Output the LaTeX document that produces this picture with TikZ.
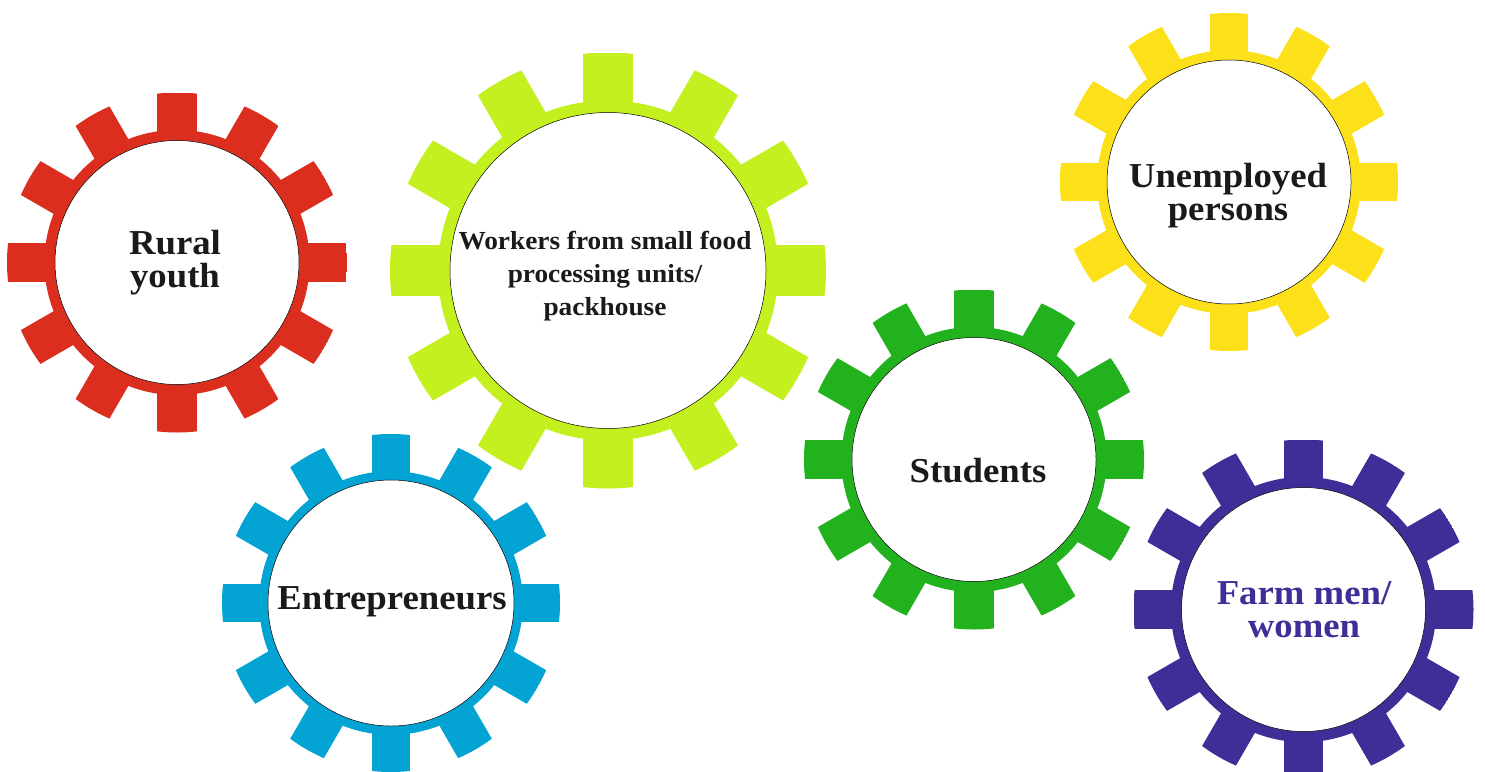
\documentclass[tikz,border=0pt]{standalone}
\usepackage{fontspec}
\setmainfont{Liberation Serif}[FakeStretch=1.05]

\definecolor{rouge}{RGB}{220,46,30}
\definecolor{citron}{RGB}{195,240,30}
\definecolor{jaune}{RGB}{252,224,26}
\definecolor{vert}{RGB}{34,178,30}
\definecolor{bleu}{RGB}{3,163,212}
\definecolor{violet}{RGB}{62,46,152}
\definecolor{encre}{RGB}{26,26,26}

% roue dentee : centre x, centre y, rayon, couleur
\newcommand{\roue}[4]{%
  \begin{scope}[shift={(#1,#2)}]
    \begin{scope}
      \clip (0,0) circle (#3);
      \foreach \a in {0,30,...,330}
        \fill[#4, rotate=\a] (0,-0.115*#3) rectangle (#3,0.115*#3);
    \end{scope}
    \fill[#4] (0,0) circle (0.78*#3);
  \end{scope}}

\tikzset{
  moyeu/.style={circle, draw=black, line width=0.5pt, fill=white, inner sep=0pt},
  texte/.style={align=center, inner sep=0pt, text=encre, font=\bfseries\fontsize{35}{33}\selectfont}
}

\begin{document}
\begin{tikzpicture}[x=1pt, y=-1pt]
\clip (0,0) rectangle (1485,771);

% Roues
\roue{177}{262.5}{170}{rouge}
\roue{608}{270.5}{218}{citron}
\roue{1229}{182}{169}{jaune}
\roue{974}{459.5}{170}{vert}
\roue{391}{603}{169}{bleu}
\roue{1303.5}{609.5}{170}{violet}

% Moyeux
\node[moyeu, minimum size=244] (rural) at (177,262.5) {};
\node[moyeu, minimum size=316] (ouvriers) at (608,270.5) {};
\node[moyeu, minimum size=244] (chomeurs) at (1229,182) {};
\node[moyeu, minimum size=244] (etudiants) at (974,459.5) {};
\node[moyeu, minimum size=246] (entrepreneurs) at (391,603) {};
\node[moyeu, minimum size=244] (agriculteurs) at (1303.5,609.5) {};

% Textes
\node[texte] (t-rural) at (175,263) {Rural\\youth};
\node[texte, font=\bfseries\fontsize{26}{33}\selectfont] (t-ouvriers) at (605,276)
  {Workers from small food\\processing units/\\packhouse};
\node[texte] (t-chomeurs) at (1228,195.5) {Unemployed\\persons};
\node[texte] (t-etudiants) at (978,471) {Students};
\node[texte] (t-entrepreneurs) at (392,601.5) {Entrepreneurs};
\node[texte, text=violet] (t-agriculteurs) at (1304,610) {Farm men/\\women};

\end{tikzpicture}
\end{document}
